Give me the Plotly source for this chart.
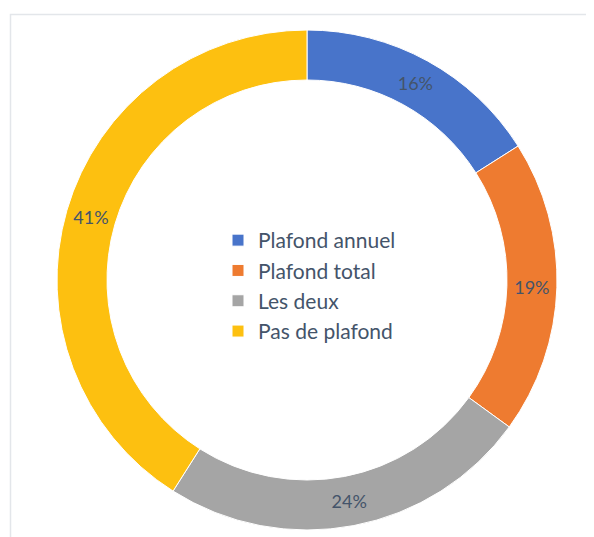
import plotly.graph_objects as go

labels = ["Plafond annuel", "Plafond total", "Les deux", "Pas de plafond"]
values = [16, 19, 24, 41]
colors = ["#4874CA", "#EE7B30", "#A5A5A5", "#FDC010"]

W, H = 594, 537
cx, cy, r = 299, 272, 250

fig = go.Figure(go.Pie(
    labels=labels, values=values, hole=0.8, sort=False, direction="clockwise",
    rotation=0,
    marker=dict(colors=colors, line=dict(color="white", width=1)),
    texttemplate="%{value}%", textposition="inside",
    insidetextorientation="horizontal",
    textfont=dict(family="Lato, Open Sans, sans-serif", size=18, color="#44546A"),
    domain=dict(x=[(cx - r) / W, (cx + r) / W], y=[1 - (cy + r) / H, 1 - (cy - r) / H]),
    hoverinfo="label+percent",
))

fig.update_layout(
    width=W, height=H, margin=dict(l=0, r=0, t=0, b=0),
    paper_bgcolor="white", plot_bgcolor="white",
    showlegend=True,
    legend=dict(x=210 / W, y=1 - 212 / H, xanchor="left", yanchor="top",
                font=dict(family="Lato, Open Sans, sans-serif", size=21, color="#44546A"),
                bgcolor="rgba(0,0,0,0)", itemwidth=30, tracegroupgap=0),
    shapes=[dict(type="rect", xref="paper", yref="paper",
                 x0=2.5 / W, x1=1.2, y0=-0.2, y1=1 - 6.5 / H,
                 line=dict(color="#E3E6EA", width=1.5), fillcolor="rgba(0,0,0,0)")],
)

fig.write_html("out.html")
